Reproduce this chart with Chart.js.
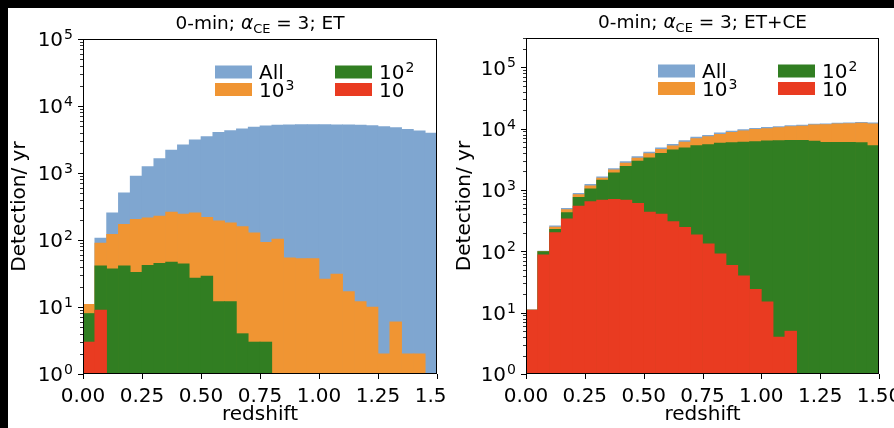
<!DOCTYPE html>
<html><head><meta charset="utf-8">
<script src="https://cdn.jsdelivr.net/npm/chart.js@4.4.1/dist/chart.umd.min.js"></script>
<style>
html,body{margin:0;padding:0;background:#fff;width:894px;height:428px;overflow:hidden}
.panel{position:absolute;top:8px;height:420px;overflow:hidden;background:#fff}
#pl{left:8px;width:438px}
#pr{left:446px;width:448px}
.bar{position:absolute;background:#000}
canvas{display:block}
</style></head><body>
<div class="bar" style="left:0;top:0;width:894px;height:8px"></div>
<div class="bar" style="left:0;top:0;width:8px;height:428px"></div>
<div class="panel" id="pl"><canvas id="cl" width="469" height="420"></canvas></div>
<div class="panel" id="pr"><canvas id="cr" width="473" height="420"></canvas></div>
<script>
// ---- data ----
const binCenters = [0.025,0.075,0.125,0.175,0.225,0.275,0.325,0.375,0.425,0.475,0.525,0.575,0.625,0.675,0.725,0.775,0.825,0.875,0.925,0.975,1.025,1.075,1.125,1.175,1.225,1.275,1.325,1.375,1.425,1.475];
const xTicks = [0, 0.25, 0.5, 0.75, 1.0, 1.25, 1.5];
const yDecades = [0, 1, 2, 3, 4, 5];
const seriesNames = ['All', '10^3', '10^2', '10'];
const titleET = ['0-min; ', 'α', 'CE', ' = 3; ET'];
const titleETCE = ['0-min; ', 'α', 'CE', ' = 3; ET+CE'];

// ET panel
const etAll = [11,107,255,504,896,1247,1644,2193,2635,3130,3510,4030,4315,4570,4845,5070,5180,5230,5260,5270,5270,5250,5220,5180,5100,4950,4750,4500,4250,3950];
const et1e3 = [11,90,122,171,203,215,228,262,244,255,218,194,181,158,128,92,103,54,53,53,26,31,17,12,10,2,6,2,2,null];
const et1e2 = [8,41,37,41,33,42,45,47,44,27,29,12,12,4,3,3,null,null,null,null,null,null,null,null,null,null,null,null,null,null];
const et10  = [3,9,null,null,null,null,null,null,null,null,null,null,null,null,null,null,null,null,null,null,null,null,null,null,null,null,null,null,null,null];

// ET+CE panel
const etceAll = [11,101,259,503,881,1232,1640,2240,2900,3500,4150,4880,5550,6400,7250,7800,8500,9100,9600,10100,10450,10800,11200,11450,11880,12000,12330,12470,12650,12400];
const etce1e3 = [11,100,248,478,838,1170,1560,2120,2740,3300,3920,4600,5220,6050,6880,7420,8100,8700,9200,9700,10050,10400,10800,11050,11500,11600,11950,12100,12280,12000];
const etce1e2 = [11,99,229,426,758,1045,1448,1900,2420,2950,3350,3950,4500,4850,5300,5500,5800,5900,6050,6150,6300,6400,6450,6450,6250,6000,5980,5950,5900,5300];
const etce10  = [11,88,202,337,548,645,686,703,686,606,438,406,305,247,185,132,91,59,40,24,15,4,5,null,null,null,null,null,null,null];

const COLORS = ['#7fa6d0', '#f09533', '#317e22', '#e93b21'];
const FONT = "'DejaVu Sans', sans-serif";

function pts(arr){ return binCenters.map((x,i)=>({x:x, y:arr[i]})); }

function drawSup(ctx, x, yBase, base, exp, size){
  ctx.font = size + 'px ' + FONT;
  ctx.textAlign = 'left';
  ctx.textBaseline = 'alphabetic';
  ctx.fillText(base, x, yBase);
  let w = ctx.measureText(base).width;
  if (exp !== undefined){
    const es = size*0.7;
    ctx.font = es + 'px ' + FONT;
    ctx.fillText(exp, x + w + 1, yBase - size*0.36);
    w += 1 + ctx.measureText(exp).width;
  }
  return w;
}
function supWidth(ctx, base, exp, size){
  ctx.font = size + 'px ' + FONT;
  let w = ctx.measureText(base).width;
  if (exp !== undefined){ ctx.font = (size*0.7) + 'px ' + FONT; w += 1 + ctx.measureText(exp).width; }
  return w;
}

const deco = {
  id: 'deco',
  afterDraw(chart, args, o){
    const {ctx, chartArea: a} = chart;
    const xs = chart.scales.x, ys = chart.scales.y;
    ctx.save();
    ctx.fillStyle = '#000'; ctx.strokeStyle = '#000';
    // frame
    ctx.lineWidth = 1;
    ctx.strokeRect(Math.round(a.left)+0.5, Math.round(a.top)+0.5, Math.round(a.right-a.left)-1, Math.round(a.bottom-a.top)-1);
    // x ticks
    const yb = Math.round(a.bottom);
    xTicks.forEach(v=>{
      const px = Math.round(xs.getPixelForValue(v))+0.5;
      ctx.beginPath(); ctx.moveTo(px, yb); ctx.lineTo(px, yb+5); ctx.stroke();
    });
    // y ticks major + minor
    const lx = Math.round(a.left);
    yDecades.forEach(k=>{
      for (let m=1; m<=9; m++){
        const v = m*Math.pow(10,k);
        if (v < ys.min || v > ys.max) continue;
        const py = Math.round(ys.getPixelForValue(v))+0.5;
        ctx.lineWidth = m===1 ? 1 : 0.8;
        ctx.beginPath(); ctx.moveTo(lx, py); ctx.lineTo(lx-(m===1?5:3), py); ctx.stroke();
      }
    });
    // y tick labels
    ctx.lineWidth = 1;
    yDecades.forEach(k=>{
      const v = Math.pow(10,k);
      const py = ys.getPixelForValue(v);
      const w = supWidth(ctx, '10', String(k), 20);
      drawSup(ctx, lx - 10 - w, py + 7.3, '10', String(k), 20);
    });
    // title
    const parts = o.title;
    const fs = 18.5;
    const fonts = [fs+'px '+FONT, 'italic '+fs+'px '+FONT, (fs*0.7)+'px '+FONT, fs+'px '+FONT];
    let tw = 0;
    parts.forEach((p,i)=>{ ctx.font = fonts[i]; tw += ctx.measureText(p).width; });
    let tx = (a.left+a.right)/2 - tw/2;
    const tyb = a.top - 10;
    ctx.textAlign='left'; ctx.textBaseline='alphabetic';
    parts.forEach((p,i)=>{
      ctx.font = fonts[i];
      ctx.fillText(p, tx, tyb + (i===2 ? 4 : 0));
      tx += ctx.measureText(p).width;
    });
    // legend (column-major, 2 columns)
    const cols = [132, 252];
    const rows = [33, 50.5];
    const order = [[0,0],[0,1],[1,0],[1,1]]; // All, 10^3, 10^2, 10
    const labels = [['All'],['10','3'],['10','2'],['10']];
    order.forEach(([c,r],i)=>{
      const x0 = a.left + cols[c], yc = a.top + rows[r];
      ctx.fillStyle = COLORS[i];
      ctx.fillRect(x0, yc-6.5, 37, 13);
      ctx.fillStyle = '#000';
      drawSup(ctx, x0 + 44, yc + 7.3, labels[i][0], labels[i][1], 20);
    });
    ctx.restore();
  }
};

function makePanel(id, d, opt){
  const ds = d.map((arr,i)=>({
    label: seriesNames[i], data: pts(arr), backgroundColor: COLORS[i],
    borderWidth: 0, order: 4-i, grouped: false,
    barPercentage: 1, categoryPercentage: 1
  }));
  new Chart(document.getElementById(id), {
    type: 'bar',
    data: { datasets: ds },
    plugins: [deco],
    options: {
      responsive: false, animation: false, events: [],
      layout: { padding: { left: 0, right: 40, top: opt.top, bottom: 0 } },
      plugins: { legend: {display:false}, tooltip: {enabled:false}, deco: { title: opt.title } },
      scales: {
        x: {
          type: 'linear', min: 0, max: 1.5, offset: false,
          grid: { display: false, drawTicks: false }, border: { display: false },
          ticks: { stepSize: 0.25, autoSkip: false, maxRotation: 0, padding: 11, color: '#000',
                   font: { family: FONT, size: 20 }, callback: v => Number(v).toFixed(2) },
          title: { display: true, text: 'redshift', color: '#000', font: { family: FONT, size: 20 }, padding: { top: 0, bottom: 1 } },
          afterFit: s => { s.height = 54; }
        },
        y: {
          type: 'logarithmic', min: 1, max: opt.ymax,
          grid: { display: false, drawTicks: false }, border: { display: false },
          ticks: { display: false },
          title: { display: true, text: 'Detection/ yr', color: '#000', font: { family: FONT, size: 20 }, padding: { top: opt.ytp, bottom: 0 } },
          afterFit: s => { s.width = opt.yw; }
        }
      }
    }
  });
}

makePanel('cl', [etAll, et1e3, et1e2, et10], { top: 31, ymax: 1e5, yw: 75, ytp: 0, title: titleET });
makePanel('cr', [etceAll, etce1e3, etce1e2, etce10], { top: 30, ymax: 3e5, yw: 80, ytp: 6.5, title: titleETCE });
</script>
</body></html>
